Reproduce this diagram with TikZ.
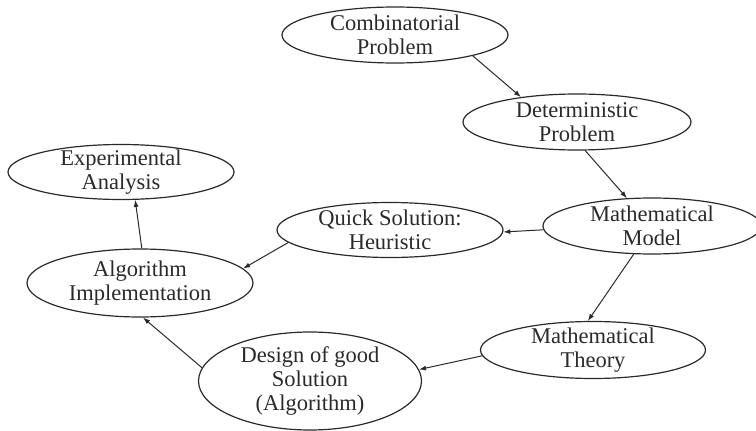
\documentclass[tikz,border=0pt]{standalone}
\usepackage{fontspec}
\setmainfont{Liberation Serif}
\usetikzlibrary{shapes.geometric,arrows.meta}
\definecolor{ink}{HTML}{2A2A2A}
\begin{document}
\begin{tikzpicture}[x=1pt,y=-1pt,
        >={Latex[length=7pt,width=5pt]},
        box/.style={ellipse,draw=ink,line width=1.2pt,inner sep=-8pt,
            align=center,text=ink,font=\fontsize{22.5}{24}\selectfont},
        link/.style={->,draw=ink,line width=1pt}]
	\useasboundingbox (0,0) rectangle (756,431);

\node[box,minimum width=226pt,minimum height=56pt] (comb) at (395,35) {Combinatorial\\Problem};
\node[box,minimum width=228pt,minimum height=56pt] (det) at (577,122) {Deterministic\\Problem};
\node[box,minimum width=218pt,minimum height=56pt] (model) at (652,226) {Mathematical\\Model};
\node[box,minimum width=226pt,minimum height=55pt] (quick) at (390,230) {Quick Solution:\\Heuristic};
\node[box,minimum width=226pt,minimum height=55pt] (exper) at (121,172) {Experimental\\Analysis};
\node[box,minimum width=226pt,minimum height=68pt] (algo) at (140,283) {Algorithm\\Implementation};
\node[box,minimum width=225pt,minimum height=57pt] (theory) at (593,350) {Mathematical\\Theory};
\node[box,minimum width=223pt,minimum height=98pt] (design) at (310,381) {Design of good\\Solution\\(Algorithm)};

	\draw[link] (comb.-15) -- (det.156);
	\draw[link] (det.-74) -- (model.132);
	\draw[link] (model.182) -- (quick.-1);
	\draw[link] (model.237) -- (theory.100);
	\draw[link] (theory.183) -- (design.6.5);
	\draw[link] (quick.187) -- (algo.8);
	\draw[link] (design.173) -- (algo.-85);
	\draw[link] (algo.87) -- (exper.-63);
\end{tikzpicture}
\end{document}
